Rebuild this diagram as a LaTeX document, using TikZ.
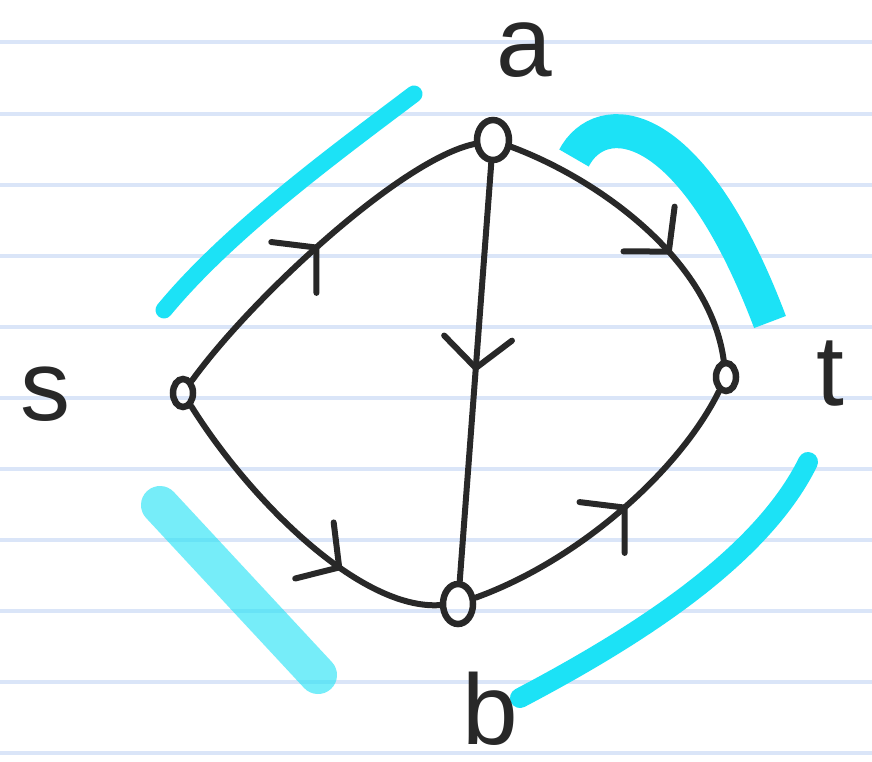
\documentclass[tikz,border=0pt]{standalone}
\usepackage{fontspec}
\setmainfont{Liberation Sans}
\usetikzlibrary{arrows.meta,decorations.markings,shapes.geometric}
\definecolor{rule}{RGB}{218,229,248}
\definecolor{hl}{RGB}{28,226,246}
\definecolor{ink}{RGB}{40,40,40}
\begin{document}
\begin{tikzpicture}[x=1pt,y=1pt,
  vertex/.style={ellipse,draw=ink,line width=6.5pt,inner sep=0pt},
  edge/.style={draw=ink,line width=6pt,line cap=round},
  midarrow/.style={postaction={decorate},decoration={markings,
     mark=at position #1 with {\arrow[ink,line width=6pt]{Straight Barb[length=30pt,width=68pt,line cap=round]}}}},
  lbl/.style={font=\fontsize{100}{104}\selectfont,text=ink,inner sep=0pt,anchor=base},
  brush/.style={draw=hl,line cap=round}
]
\useasboundingbox (0,0) rectangle (872,-761);
\fill[white] (0,0) rectangle (872,-761);
% ruled lines
\foreach \y in {42,114,185,256,327,398,469,540,611,682,753}
  \draw[rule,line width=4pt] (0,-\y) -- (872,-\y);
% highlighter strokes
\draw[brush,line width=17pt] (164,-310) .. controls (230,-230) and (340,-150) .. (414,-94);
\draw[brush,line width=34pt,line cap=butt] (574,-158) .. controls (600,-108) and (690,-110) .. (770,-322);
\draw[brush,line width=38pt,opacity=0.6] (160,-505) -- (318,-675);
\draw[brush,line width=20pt] (808,-462) .. controls (760,-560) and (630,-640) .. (520,-698);
% nodes
\node[vertex,minimum width=32pt,minimum height=40pt] (a) at (493,-140) {};
\node[vertex,minimum width=20pt,minimum height=28pt] (s) at (183,-393) {};
\node[vertex,minimum width=20pt,minimum height=28pt] (t) at (726,-377) {};
\node[vertex,minimum width=30pt,minimum height=40pt] (b) at (458,-604) {};
% labels
\node[lbl] (la) at (524,-76) {a};
\node[lbl] (ls) at (45,-420) {s};
\node[lbl] (lt) at (830,-405) {t};
\node[lbl] (lb) at (490,-744) {b};
% edges
\draw[edge,midarrow=0.5] (s) .. controls (250,-300) and (400,-160) .. (a);
\draw[edge,midarrow=0.62] (a) .. controls (600,-180) and (710,-260) .. (t);
\draw[edge,midarrow=0.5] (a) -- (b);
\draw[edge,midarrow=0.68] (s) .. controls (250,-500) and (360,-610) .. (b);
\draw[edge,midarrow=0.55] (b) .. controls (580,-560) and (680,-470) .. (t);
\end{tikzpicture}
\end{document}
